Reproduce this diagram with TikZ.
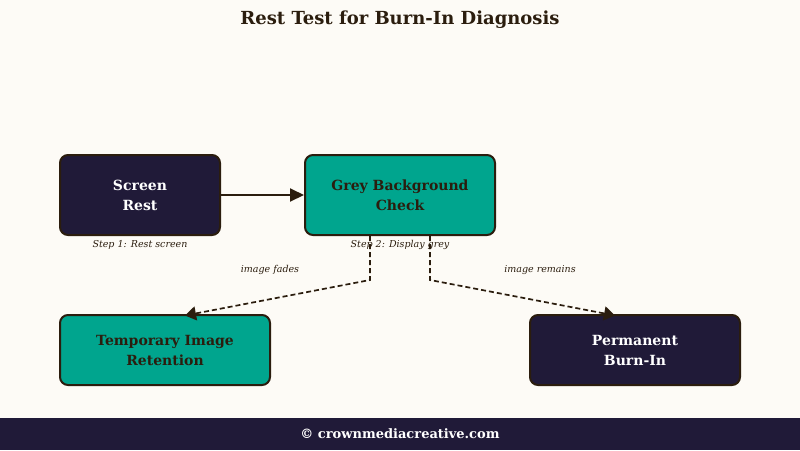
\documentclass[tikz,border=0pt]{standalone}
\usepackage{fontspec}
\setmainfont{DejaVu Serif}
\usetikzlibrary{arrows.meta}
\definecolor{bg}{HTML}{FDFBF6}
\definecolor{navy}{HTML}{201A38}
\definecolor{teal}{HTML}{00A58E}
\definecolor{brn}{HTML}{2B1D0E}
\begin{document}
\begin{tikzpicture}[x=1pt,y=-1pt,
 box/.style={draw=brn,line width=2pt,rounded corners=8pt,align=center,font=\bfseries\fontsize{14}{20}\selectfont},
 dk/.style={box,fill=navy,text=white},
 tl/.style={box,fill=teal,text=brn},
 lab/.style={font=\itshape\fontsize{9.5}{11}\selectfont,text=brn},
 arr/.style={draw=brn,line width=2pt,-{Triangle[length=14pt,width=13pt]}},
 dsh/.style={draw=brn,line width=1.7pt,dash pattern=on 5pt off 3pt,-{Triangle[length=11pt,width=14pt]}}]
\fill[bg] (0,0) rectangle (800,450);
\useasboundingbox (0,0) rectangle (800,450);
\fill[navy] (0,418) rectangle (800,450);
\node[font=\bfseries\fontsize{13}{15}\selectfont,text=white] (foot) at (400,434) {© crownmediacreative.com};
\node[font=\bfseries\fontsize{18}{20}\selectfont,text=brn] (title) at (400,20) {Rest Test for Burn-In Diagnosis};
\node[dk,minimum width=160pt,minimum height=80pt] (a) at (140,195) {Screen\\Rest};
\node[tl,minimum width=190pt,minimum height=80pt] (b) at (400,195) {Grey Background\\Check};
\node[tl,minimum width=210pt,minimum height=70pt] (c) at (165,350) {Temporary Image\\Retention};
\node[dk,minimum width=210pt,minimum height=70pt] (d) at (635,350) {Permanent\\Burn-In};
\node[lab] (l1) at (140,245) {Step 1: Rest screen};
\node[lab] (l2) at (400,245) {Step 2: Display grey};
\node[lab] (l3) at (270,270) {image fades};
\node[lab] (l4) at (540,270) {image remains};
\draw[arr] (a) -- (b);
\coordinate (b1) at (370,280);
\coordinate (b2) at (430,280);
\draw[dsh] (b.south -| b1) -- (b1) -- (185,315.5);
\draw[dsh] (b.south -| b2) -- (b2) -- (615,315.5);
\end{tikzpicture}
\end{document}
